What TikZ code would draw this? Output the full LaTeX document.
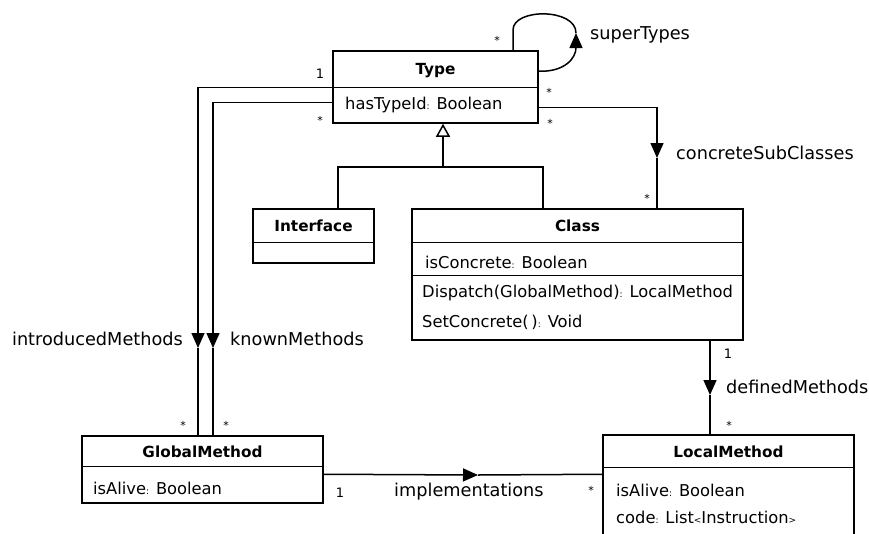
\documentclass[tikz,border=0pt]{standalone}
\usepackage{fontspec}
\setmainfont{DejaVu Sans}
\usetikzlibrary{arrows.meta}

\begin{document}
\begin{tikzpicture}[x=1pt,y=-1pt,
  box/.style={draw, line width=1.5pt, rectangle, inner sep=0pt},
  conn/.style={line width=1.5pt},
  head/.style={-{Triangle[length=15pt,width=13pt]}},
  gen/.style={-{Triangle[open,length=13pt,width=14pt]}},
  title/.style={font=\fontsize{15.3}{18}\selectfont\bfseries, inner sep=0pt},
  attr/.style={font=\fontsize{16.3}{18}\selectfont, inner sep=0pt, anchor=west},
  lbl/.style={font=\fontsize{17.7}{20}\selectfont, inner sep=0pt},
  mult/.style={font=\fontsize{11}{12}\selectfont, inner sep=0pt},
  one/.style={font=\fontsize{13}{15}\selectfont, inner sep=0pt}]
\useasboundingbox (0,0) rectangle (869,533);
\clip (0,0) rectangle (869,533);

% class boxes
\node[box, minimum width=205pt, minimum height=72pt] (type) at (435.5,87) {};
\node[box, minimum width=121pt, minimum height=54pt] (iface) at (313.5,236) {};
\node[box, minimum width=331pt, minimum height=131pt] (cls) at (577.5,274.5) {};
\node[box, minimum width=241pt, minimum height=67pt] (gm) at (202.5,469.5) {};
\node[box, minimum width=251pt, minimum height=110pt] (lm) at (728.5,490) {};

% compartment dividers
\draw[conn] ([yshift=-37pt]type.north west) -- ([yshift=-37pt]type.north east);
\draw[conn] ([yshift=-34pt]iface.north west) -- ([yshift=-34pt]iface.north east);
\draw[conn] ([yshift=-34pt]cls.north west) -- ([yshift=-34pt]cls.north east);
\draw[conn] ([yshift=-67pt]cls.north west) -- ([yshift=-67pt]cls.north east);
\draw[conn] ([yshift=-31pt]gm.north west) -- ([yshift=-31pt]gm.north east);
\draw[conn] ([yshift=-33pt]lm.north west) -- ([yshift=-33pt]lm.north east);

% class contents
\node[title] (typeT) at (435.5,71) {Type};
\node[attr] (typeA) at (345,105) {hasTypeId{\small:} Boolean};
\node[title] (ifaceT) at (313.5,226) {Interface};
\node[title] (clsT) at (577.5,226) {Class};
\node[attr] (clsA) at (425,262) {isConcrete{\small:} Boolean};
\node[attr] (clsM1) at (422,293) {Dispatch(GlobalMethod){\small:} LocalMethod};
\node[attr] (clsM2) at (422,322) {SetConcrete(\,){\small:} Void};
\node[title] (gmT) at (202.5,452) {GlobalMethod};
\node[attr] (gmA) at (93,488) {isAlive{\small:} Boolean};
\node[title] (lmT) at (728.5,452) {LocalMethod};
\node[attr] (lmA) at (616,490) {isAlive{\small:} Boolean};
\node[attr] (lmB) at (616,517) {code{\small:} List{\small<}Instruction{\small>}};

% generalization
\coordinate (gj) at (443,167);
\draw[conn, gen] (gj) -- (gj |- type.south);
\draw[conn] ([xshift=24.5pt]iface.north) |- (gj) -| ([xshift=-34.5pt]cls.north);

% superTypes self association
\coordinate (stTip) at (576,33);
\coordinate (stTop) at (513,30);
\draw[conn, head] ([yshift=-21pt]type.north east) .. controls (565,72) and (576,58) .. (stTip);
\draw[conn] (stTip) .. controls (576,8) and (513,8) .. (stTop) -- ([xshift=77.5pt]type.north);

% introducedMethods / knownMethods
\coordinate (imTip) at (198,348);
\coordinate (kmTip) at (213,348);
\draw[conn, head] ([yshift=-37pt]type.north west) -| (imTip);
\draw[conn] (imTip) -- ([xshift=-4.5pt]gm.north);
\draw[conn, head] ([yshift=-52pt]type.north west) -| (kmTip);
\draw[conn] (kmTip) -- ([xshift=10.5pt]gm.north);

% concreteSubClasses
\coordinate (csTip) at (657,158);
\draw[conn, head] ([yshift=-57pt]type.north east) -| (csTip);
\draw[conn] (csTip) -- ([xshift=79.5pt]cls.north);

% definedMethods
\coordinate (dmTip) at (710,395);
\draw[conn, head] ([xshift=132.5pt]cls.south) -- (dmTip);
\draw[conn] (dmTip) -- ([xshift=-18.5pt]lm.north);

% implementations
\coordinate (ipTip) at (478,475);
\draw[conn, head] ([yshift=-39pt]gm.north east) -- (ipTip);
\draw[conn] (ipTip) -- ([yshift=-40pt]lm.north west);

% role names
\node[lbl, anchor=west] (stL) at (590,35) {superTypes};
\node[lbl, anchor=west] (csL) at (676,153) {concreteSubClasses};
\node[lbl, anchor=east] (imL) at (183,339) {introducedMethods};
\node[lbl, anchor=west] (kmL) at (230,339) {knownMethods};
\node[lbl, anchor=west] (dmL) at (726,387) {definedMethods};
\node[lbl, anchor=west] (ipL) at (394,492) {implementations};

% multiplicities
\node[mult] (m1) at (497,40) {*};
\node[one] (m2) at (320,74) {1};
\node[mult] (m3) at (320,120) {*};
\node[mult] (m4) at (549,92) {*};
\node[mult] (m5) at (550,123) {*};
\node[mult] (m6) at (647,198) {*};
\node[mult] (m7) at (183,425) {*};
\node[mult] (m8) at (226,425) {*};
\node[one] (m9) at (728,354) {1};
\node[mult] (m10) at (729,425) {*};
\node[one] (m11) at (340,493) {1};
\node[mult] (m12) at (591,490) {*};
\end{tikzpicture}
\end{document}
